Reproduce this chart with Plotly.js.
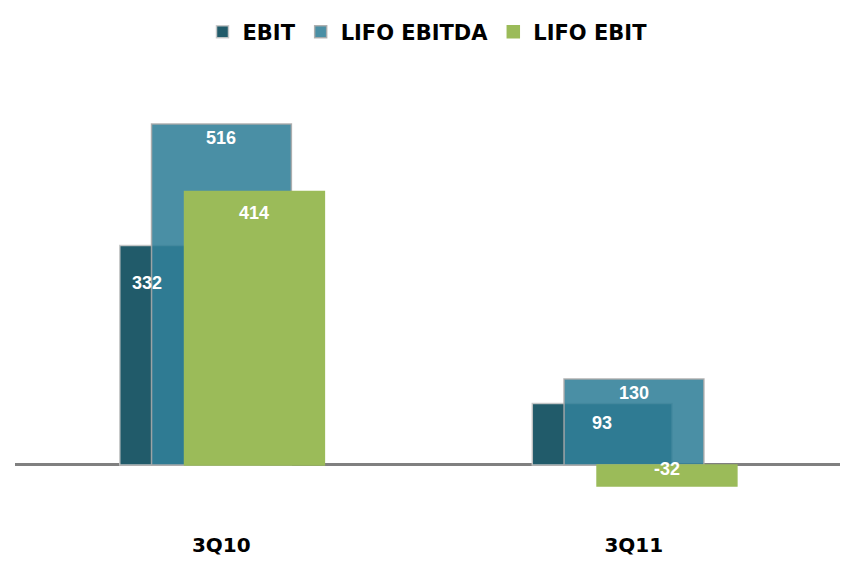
<!DOCTYPE html>
<html>
<head>
<meta charset="utf-8">
<script src="https://cdn.plot.ly/plotly-3.0.1.min.js"></script>
<style>html,body{margin:0;padding:0;background:#fff;}#chart{width:855px;height:574px;}</style>
</head>
<body>
<div id="chart"></div>
<script>
// ---- data ----
const categories = ['3Q10', '3Q11'];
const seriesNames = ['EBIT', 'LIFO EBITDA', 'LIFO EBIT'];
const ebit = [332, 93];
const lifoEbitda = [516, 130];
const lifoEbit = [414, -32];

// ---- styling ----
const seriesValues = [ebit, lifoEbitda, lifoEbit];
const colors = ['#215B6A', 'rgba(49,128,152,0.88)', '#9BBB59'];
const lineColors = ['rgba(200,200,200,0.9)', 'rgba(170,170,170,0.9)', 'rgba(155,187,89,1)'];
const barWidth = 0.339;
const offsets = [-0.246, -0.169, -0.089];

const traces = seriesValues.map((vals, i) => ({
  type: 'bar',
  name: seriesNames[i],
  x: categories,
  y: vals,
  width: barWidth,
  offset: offsets[i],
  marker: {color: colors[i], line: {color: lineColors[i], width: 1.5}},
  hoverinfo: 'skip'
}));

// label nudges per series / category
const labelDx = [[-74 / 412.5 - (offsets[0] + barWidth / 2), 0], [0, 0], [0, 0]];
const labelDy = [[-25, -7], [-2, -2], [-10, 0]];

const annotations = [];
seriesValues.forEach((vals, i) => {
  vals.forEach((v, j) => {
    const xc = j + offsets[i] + barWidth / 2 + labelDx[i][j];
    annotations.push({
      xref: 'x', yref: 'y',
      x: xc, y: v >= 0 ? v : 0,
      text: String(v),
      showarrow: false,
      yanchor: v >= 0 ? 'top' : 'middle',
      yshift: v >= 0 ? labelDy[i][j] : -4,
      font: {family: 'Liberation Sans, Arial, sans-serif', size: 18, color: '#ffffff', weight: 'bold'}
    });
  });
});

const layout = {
  width: 855, height: 574,
  margin: {l: 15, r: 15, t: 95, b: 43},
  paper_bgcolor: '#ffffff', plot_bgcolor: '#ffffff',
  barmode: 'overlay',
  showlegend: true,
  legend: {
    orientation: 'h', xref: 'paper', yref: 'container',
    x: 0.5, xanchor: 'center', y: 1 - 32 / 574, yanchor: 'middle',
    font: {family: 'DejaVu Sans, sans-serif', size: 21, color: '#000000', weight: 'bold'},
    itemwidth: 30, traceorder: 'normal'
  },
  xaxis: {
    type: 'category', range: [-0.5, 1.5],
    showgrid: false, showline: false, zeroline: false, ticks: '',
    tickfont: {family: 'DejaVu Sans, sans-serif', size: 20, color: '#000000', weight: 'bold'},
    fixedrange: true
  },
  yaxis: {
    range: [-100, 560],
    showgrid: false, showline: false, showticklabels: false, ticks: '',
    zeroline: true, zerolinecolor: '#808080', zerolinewidth: 3,
    fixedrange: true
  },
  annotations: annotations
};

Plotly.newPlot('chart', traces, layout, {displayModeBar: false, staticPlot: true});
</script>
</body>
</html>
